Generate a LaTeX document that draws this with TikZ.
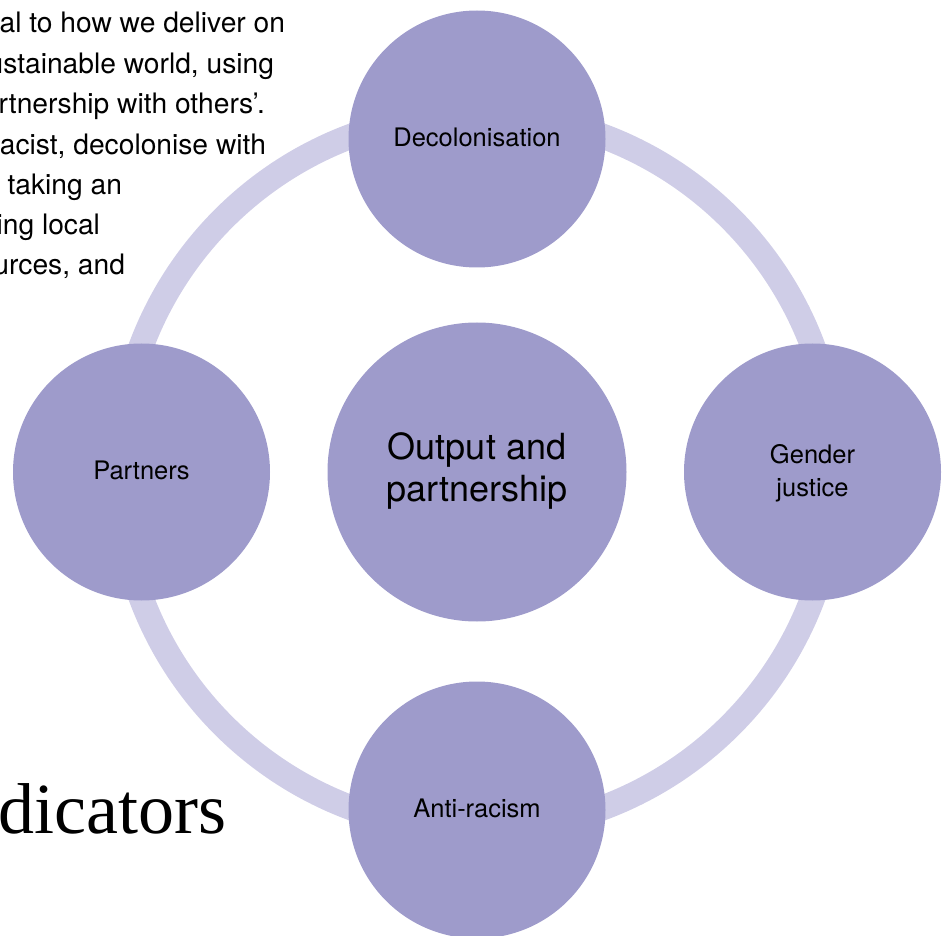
\documentclass[tikz,border=0pt]{standalone}
\usepackage{fontspec}
\setmainfont{TeX Gyre Heros}
\newfontfamily\headingfont{Liberation Serif}
\usetikzlibrary{positioning}
\definecolor{circlefill}{RGB}{158,155,203}
\definecolor{ringfill}{RGB}{207,205,231}
\tikzstyle{hub}=[
  circle,
  fill=circlefill,
  font={\fontsize{36}{42}\selectfont},
  inner sep=0pt,
  minimum size=299pt,
  outer sep=0pt,
  align=center,
  text depth=9pt,
]
\tikzstyle{spoke}=[
  circle,
  fill=circlefill,
  font={\fontsize{25.5}{33}\selectfont},
  inner sep=0pt,
  minimum size=257pt,
  outer sep=0pt,
  align=center,
  text depth=4pt,
]
\tikzstyle{ring}=[
  draw=ringfill,
  line width=25pt,
]
\tikzstyle{bodytext}=[
  anchor=base east,
  font={\fontsize{28.2}{40}\selectfont},
  inner sep=0pt,
  outer sep=0pt,
]
\tikzstyle{heading}=[
  anchor=base east,
  font={\headingfont\fontsize{72}{80}\selectfont},
  inner sep=0pt,
  outer sep=0pt,
]

\begin{document}
\begin{tikzpicture}[x=1pt,y=-1pt]
    \useasboundingbox (0,0) rectangle (946,936);
    \node (line1) [bodytext] at (285,33) {al to how we deliver on};
    \node (line2) [bodytext] at (274,74) {ustainable world, using};
    \node (line3) [bodytext] at (265,114) {rtnership with others’.};
    \node (line4) [bodytext] at (266,155) {acist, decolonise with};
    \node (line5) [bodytext] at (122,195) {taking an};
    \node (line6) [bodytext] at (100,235) {ing local};
    \node (line7) [bodytext] at (125,275) {urces, and};
    \node (title) [heading] at (226,833) {dicators};
    \coordinate (centre) at (477,472);
    \draw [ring] (centre) circle [radius=358.5pt];
    \node (hub) [hub] at (centre) {Output and\\partnership};
    \node (decolonisation) [spoke, above=55pt of hub] {Decolonisation};
    \node (antiracism) [spoke, below=60pt of hub] {Anti-racism};
    \node (partners) [spoke, left=57.5pt of hub] {Partners};
    \node (gender) [spoke, right=57.5pt of hub] {Gender\\justice};
  \end{tikzpicture}
\end{document}
